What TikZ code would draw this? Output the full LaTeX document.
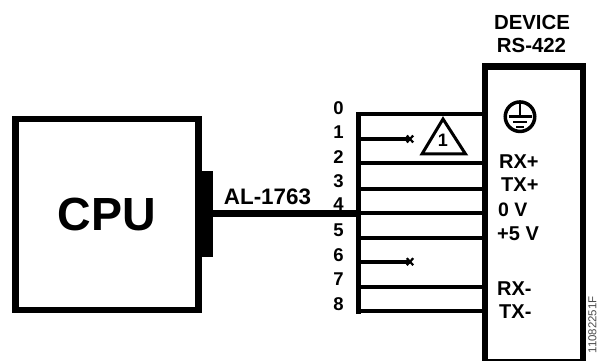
\documentclass[tikz,border=0pt]{standalone}
\usepackage{fontspec}
\setmainfont{Liberation Sans}
\tikzset{
  x=1pt,y=-1pt,
  boxheavy/.style={draw=black,line width=6.5pt,fill=white,rectangle,inner sep=0pt,outer sep=0pt},
  wire/.style={draw=black,line width=4pt},
  pinlabel/.style={font=\fontsize{18.5}{18}\selectfont\bfseries,inner sep=0pt},
  sigl/.style={font=\fontsize{20}{20}\selectfont\bfseries,inner sep=0pt,anchor=base west},
}
\begin{document}
\begin{tikzpicture}
\useasboundingbox (0,0) rectangle (598,361);
\node[boxheavy,minimum width=183pt,minimum height=190.5pt] (cpu) at (107,214.5) {};
\node[font=\fontsize{46.5}{46}\selectfont\bfseries,inner sep=0pt] (cpul) at (107,214) {CPU};
\node[boxheavy,minimum width=98pt,minimum height=296pt] (dev) at (533.8,214.5) {};
\node[fill=black,inner sep=0pt,outer sep=0pt,minimum width=11pt,minimum height=86.5pt] (conn) at (207,214.2) {};
\node[font=\fontsize{20.4}{22}\selectfont\bfseries,inner sep=0pt] (devl1) at (532,22) {DEVICE};
\node[font=\fontsize{20.4}{22}\selectfont\bfseries,inner sep=0pt] (devl2) at (531.5,45) {RS-422};
\node[font=\fontsize{22.4}{22}\selectfont\bfseries,inner sep=0pt] (al) at (267.5,196.5) {AL-1763};
% bus
\coordinate (w0) at (358.3,114.3);
\coordinate (w1) at (358.3,139);
\coordinate (w2) at (358.3,163.5);
\coordinate (w3) at (358.3,188.5);
\coordinate (w4) at (358.3,213.3);
\coordinate (w5) at (358.3,237.5);
\coordinate (w6) at (358.3,261.7);
\coordinate (w7) at (358.3,286.7);
\coordinate (w8) at (358.3,311);
\coordinate (x1) at (410,139);
\coordinate (x6) at (410,261.7);
\draw[line width=7pt] (conn.east |- w4) -- (w4);
\draw[line width=5pt,line cap=rect] (w0) -- (w8);
\foreach \w in {w0,w2,w3,w4,w5,w7,w8}{\draw[wire] (\w) -- (\w -| dev.west);}
\foreach \w/\e in {w1/x1,w6/x6}{
  \draw[wire] (\w) -- (\e);
  \draw[line width=2.2pt] ([shift={(-3.2,-3.5)}]\e) -- ([shift={(3.2,3.5)}]\e) ([shift={(-3.2,3.5)}]\e) -- ([shift={(3.2,-3.5)}]\e);
}
\foreach \n/\y in {0/107.7,1/132,2/157,3/181,4/204,5/230,6/255,7/279,8/304}{
  \node[pinlabel] (p\n) at (338.5,\y) {\n};
}
% triangle
\coordinate (t1) at (443,119);
\coordinate (t2) at (422,154);
\coordinate (t3) at (465.5,154);
\draw[line width=3pt,line join=miter] (t1) -- (t2) -- (t3) -- cycle;
\node[font=\fontsize{18}{18}\selectfont\bfseries,inner sep=0pt] (tri) at (443,140.5) {1};
% ground
\node[circle,draw=black,line width=3.5pt,minimum size=29.5pt,inner sep=0pt,outer sep=0pt] (gnd) at (520,116.7) {};
\draw[line width=2.5pt] (gnd.north) -- (520,116);
\draw[line width=2.5pt] (508.5,116.7) -- (531.5,116.7);
\draw[line width=2.5pt] (513,122) -- (527,122);
\draw[line width=2.5pt] (516,127) -- (524,127);
% signals
\node[sigl] (s1) at (499,168) {RX+};
\node[sigl] (s2) at (501,191.5) {TX+};
\node[sigl,font=\fontsize{19.5}{20}\selectfont\bfseries] (s3) at (498,216) {0 V};
\node[sigl] (s4) at (497,240.5) {+5 V};
\node[sigl] (s5) at (497,295.5) {RX-};
\node[sigl] (s6) at (499,318) {TX-};
\node[font=\fontsize{11.5}{12}\selectfont,text=black!70,rotate=90,anchor=east,inner sep=0pt] (fig) at (592.5,296) {11082251F};
\end{tikzpicture}
\end{document}
